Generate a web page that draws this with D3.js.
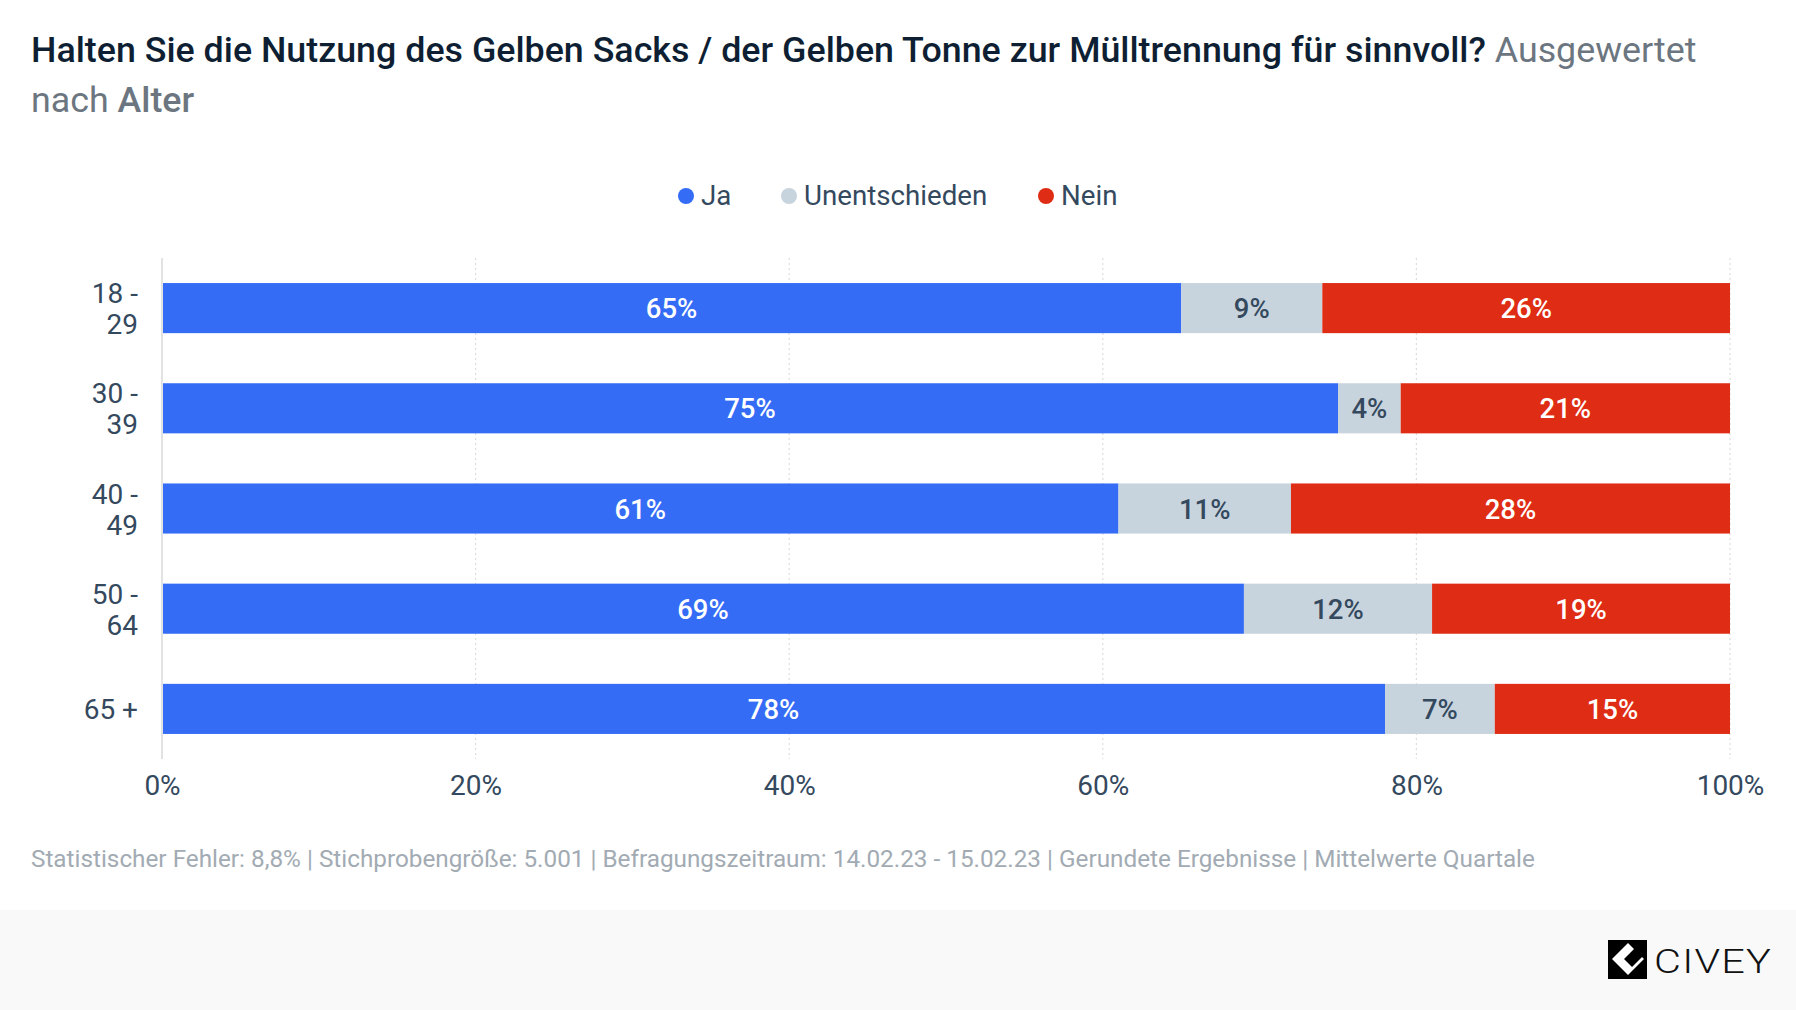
<!DOCTYPE html>
<html><head><meta charset="utf-8">
<script src="https://cdn.jsdelivr.net/npm/d3@7"></script>
<style>
body{margin:0;background:#fff;}
svg{display:block;font-family:Roboto, "Noto Sans", sans-serif;}
</style></head><body>
<svg id="c" width="1796" height="1010"></svg>
<script>
const categories = ["18 - 29", "30 - 39", "40 - 49", "50 - 64", "65 +"];
const seriesNames = ["Ja", "Unentschieden", "Nein"];
const ja = [65, 75, 61, 69, 78];
const unentschieden = [9, 4, 11, 12, 7];
const nein = [26, 21, 28, 19, 15];
const xTicks = [0, 20, 40, 60, 80, 100];
const colors = ["#346cf6", "#c8d4dd", "#df2c14"];
const labelColors = ["#ffffff", "#34495e", "#ffffff"];

const svg = d3.select("#c");
const W = 1796, H = 1010;
const m = {left: 162, right: 1730, top: 258, bottom: 759};

// footer band
svg.append("rect").attr("x",0).attr("y",910).attr("width",W).attr("height",H-910).attr("fill","#f9f9f9");

// title
const t = svg.append("text").attr("x",31).attr("y",62).attr("font-size",35.8).attr("font-weight",500).attr("fill","#0f1f33");
t.append("tspan").text("Halten Sie die Nutzung des Gelben Sacks / der Gelben Tonne zur Mülltrennung für sinnvoll? ");
t.append("tspan").attr("fill","#6c7680").attr("font-weight",400).text("Ausgewertet");
const t2 = svg.append("text").attr("x",31).attr("y",112).attr("font-size",35.8).attr("fill","#6c7680");
t2.append("tspan").attr("font-weight",400).text("nach ");
t2.append("tspan").attr("font-weight",500).text("Alter");

// legend
const legX = [686, 789, 1046];
seriesNames.forEach((n,i)=>{
  const g = svg.append("g");
  g.append("circle").attr("cx",legX[i]).attr("cy",196).attr("r",8).attr("fill",colors[i]);
  g.append("text").attr("x",legX[i]+15).attr("y",205).attr("font-size",27.7).attr("fill","#34495e").text(n);
});

const x = d3.scaleLinear().domain([0,100]).range([m.left, m.right]);
const y = d3.scaleBand().domain(categories).range([m.top, m.bottom]).paddingInner(0.5).paddingOuter(0.25);

// gridlines
svg.append("g").selectAll("line").data(xTicks.filter(d=>d>0)).join("line")
  .attr("x1",d=>x(d)).attr("x2",d=>x(d)).attr("y1",m.top).attr("y2",m.bottom)
  .attr("stroke","#dcdcdc").attr("stroke-width",1.2).attr("stroke-dasharray","2,3");

// x axis
const xAxis = svg.append("g").attr("transform",`translate(0,${m.bottom})`)
  .call(d3.axisBottom(x).tickValues(xTicks).tickFormat(d=>d+"%").tickSize(0).tickPadding(16));
xAxis.select(".domain").remove();
xAxis.selectAll("text").attr("font-size",28).attr("fill","#34495e").attr("font-family","Roboto");

// stacked data
const rows = categories.map((c,i)=>({cat:c, Ja:ja[i], Unentschieden:unentschieden[i], Nein:nein[i]}));
const stack = d3.stack().keys(seriesNames)(rows);
stack.forEach((s,si)=>{
  const g = svg.append("g");
  g.selectAll("rect").data(s).join("rect")
    .attr("x",d=>x(d[0])).attr("width",d=>x(d[1])-x(d[0]))
    .attr("y",d=>y(d.data.cat)).attr("height",y.bandwidth())
    .attr("fill",colors[si]);
  g.selectAll("text").data(s).join("text")
    .attr("x",d=>(x(d[0])+x(d[1]))/2).attr("y",d=>y(d.data.cat)+y.bandwidth()/2+10)
    .attr("text-anchor","middle").attr("font-size",27.5).attr("font-weight",500)
    .attr("fill",labelColors[si]).text(d=>(d[1]-d[0])+"%");
});

// y axis line
svg.append("line").attr("x1",m.left).attr("x2",m.left).attr("y1",m.top).attr("y2",m.bottom)
  .attr("stroke","#e2e2e2").attr("stroke-width",2);

// y labels
categories.forEach(c=>{
  const parts = c.split(" - ");
  const cy = y(c)+y.bandwidth()/2;
  const tx = svg.append("text").attr("text-anchor","end").attr("font-size",28).attr("fill","#34495e");
  if(parts.length===2){
    tx.append("tspan").attr("x",138).attr("y",cy-5).text(parts[0]+" -");
    tx.append("tspan").attr("x",138).attr("y",cy+26).text(parts[1]);
  } else {
    tx.attr("x",138).attr("y",cy+10).text(c);
  }
});

// footer note
svg.append("text").attr("x",31).attr("y",867).attr("font-size",24.3).attr("fill","#a2abb3")
  .text("Statistischer Fehler: 8,8% | Stichprobengröße: 5.001 | Befragungszeitraum: 14.02.23 - 15.02.23 | Gerundete Ergebnisse | Mittelwerte Quartale");

// logo
const lg = svg.append("g").attr("transform","translate(1608,940)");
lg.append("rect").attr("width",39).attr("height",39).attr("fill","#000");
lg.append("path").attr("d","M4,19 L20,3 L26,9 L16,19 L24,27 L34,17 L36,19 L20,35 Z").attr("fill","#fff");
svg.append("text").attr("transform","translate(1654,973) scale(1.22,1)").attr("font-size",34).attr("font-weight",300)
  .attr("letter-spacing",1).attr("fill","#111").text("CIVEY");
</script>
</body></html>
